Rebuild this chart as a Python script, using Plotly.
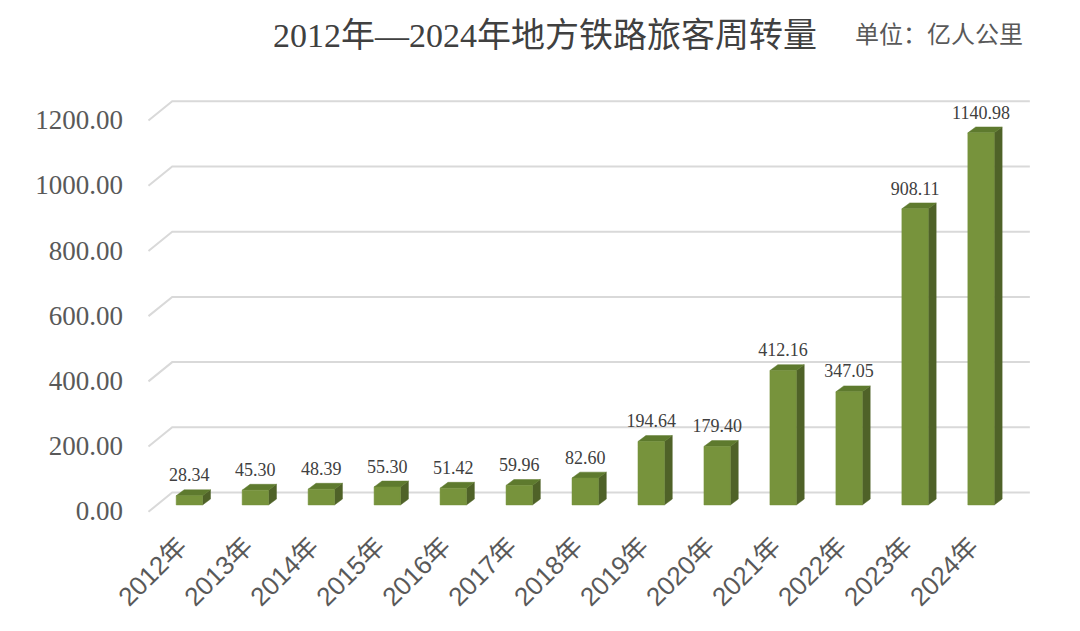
import plotly.graph_objects as go

# data
years = ['2012年', '2013年', '2014年', '2015年', '2016年', '2017年', '2018年',
         '2019年', '2020年', '2021年', '2022年', '2023年', '2024年']
values = [28.34, 45.30, 48.39, 55.30, 51.42, 59.96, 82.60,
          194.64, 179.40, 412.16, 347.05, 908.11, 1140.98]
y_ticks = [0, 200, 400, 600, 800, 1000, 1200]

# fake 3d look (Excel style)
bar_w = 0.4
dx, dy = 0.12, 18         # depth of each bar (x in categories, y in data units)
back_dy, front_dy = 38, -21   # back wall / front edge of the grid
grid_x0, grid_x1, stub_x0 = -0.26, 12.74, -0.62

front_col = '#77933C'
side_col = '#4F6228'
top_col = '#5E7A2E'
grid_col = '#D9D9D9'

xs = list(range(len(years)))


def faces(kind):
    px, py = [], []
    for i, v in zip(xs, values):
        l, r = i - bar_w / 2, i + bar_w / 2
        if kind == 'front':
            px += [l, r, r, l, l, None]
            py += [0, 0, v, v, 0, None]
        elif kind == 'side':
            px += [r, r + dx, r + dx, r, r, None]
            py += [0, dy, v + dy, v, 0, None]
        else:
            px += [l, r, r + dx, l + dx, l, None]
            py += [v, v, v + dy, v + dy, v, None]
    return px, py


fig = go.Figure()

# grid lines on the back wall + small diagonal stubs on the left
gx, gy = [], []
for t in y_ticks:
    gx += [stub_x0, grid_x0, grid_x1, None]
    gy += [t + front_dy, t + back_dy, t + back_dy, None]
fig.add_trace(go.Scatter(x=gx, y=gy, mode='lines', line=dict(color=grid_col, width=2),
                         hoverinfo='skip', showlegend=False))

for kind, col in [('side', side_col), ('top', top_col), ('front', front_col)]:
    fx, fy = faces(kind)
    fig.add_trace(go.Scatter(x=fx, y=fy, mode='lines', fill='toself', fillcolor=col,
                             line=dict(width=0.5, color=col), hoverinfo='skip', showlegend=False))

# value labels
fig.add_trace(go.Scatter(x=xs, y=[v + 30 for v in values], mode='text',
                         text=[f'{v:.2f}' for v in values], textposition='top center',
                         textfont=dict(family='Liberation Serif', size=18, color='#404040'),
                         hoverinfo='skip', showlegend=False))

# the page body has an 8px margin, so everything is moved up/left by 8px
fig.update_layout(
    width=1080, height=631,
    margin=dict(l=122, r=41, t=73, b=121),
    plot_bgcolor='white', paper_bgcolor='white',
    title=dict(text='2012年—2024年地方铁路旅客周转量', x=537 / 1080, xanchor='center',
               y=1 - 27 / 631, yanchor='middle',
               font=dict(family='Liberation Serif, Noto Sans CJK SC', size=34, color='#404040')),
    xaxis=dict(range=[-0.9, 13.0], tickvals=xs, ticktext=years, tickangle=-45,
               showgrid=False, zeroline=False, showline=False, ticks='', automargin=False,
               ticklabelstandoff=7, ticklabelshift=-10,
               tickfont=dict(family='Liberation Sans, Noto Sans CJK SC', size=26, color='#595959')),
    yaxis=dict(range=[-40, 1300], tickvals=y_ticks, ticktext=[f'{t:.2f}' for t in y_ticks],
               showgrid=False, zeroline=False, showline=False, ticks='', automargin=False,
               ticklabelshift=6, ticklabelstandoff=6,
               tickfont=dict(family='Liberation Serif', size=27, color='#595959')),
    annotations=[dict(text='单位：亿人公里', xref='paper', yref='paper',
                      x=(853 - 130) / 917, y=(518 - 35) / 437, xanchor='left', yanchor='middle',
                      showarrow=False,
                      font=dict(family='Liberation Serif, Noto Sans CJK SC', size=24, color='#595959'))],
)

fig.write_html("out.html")
